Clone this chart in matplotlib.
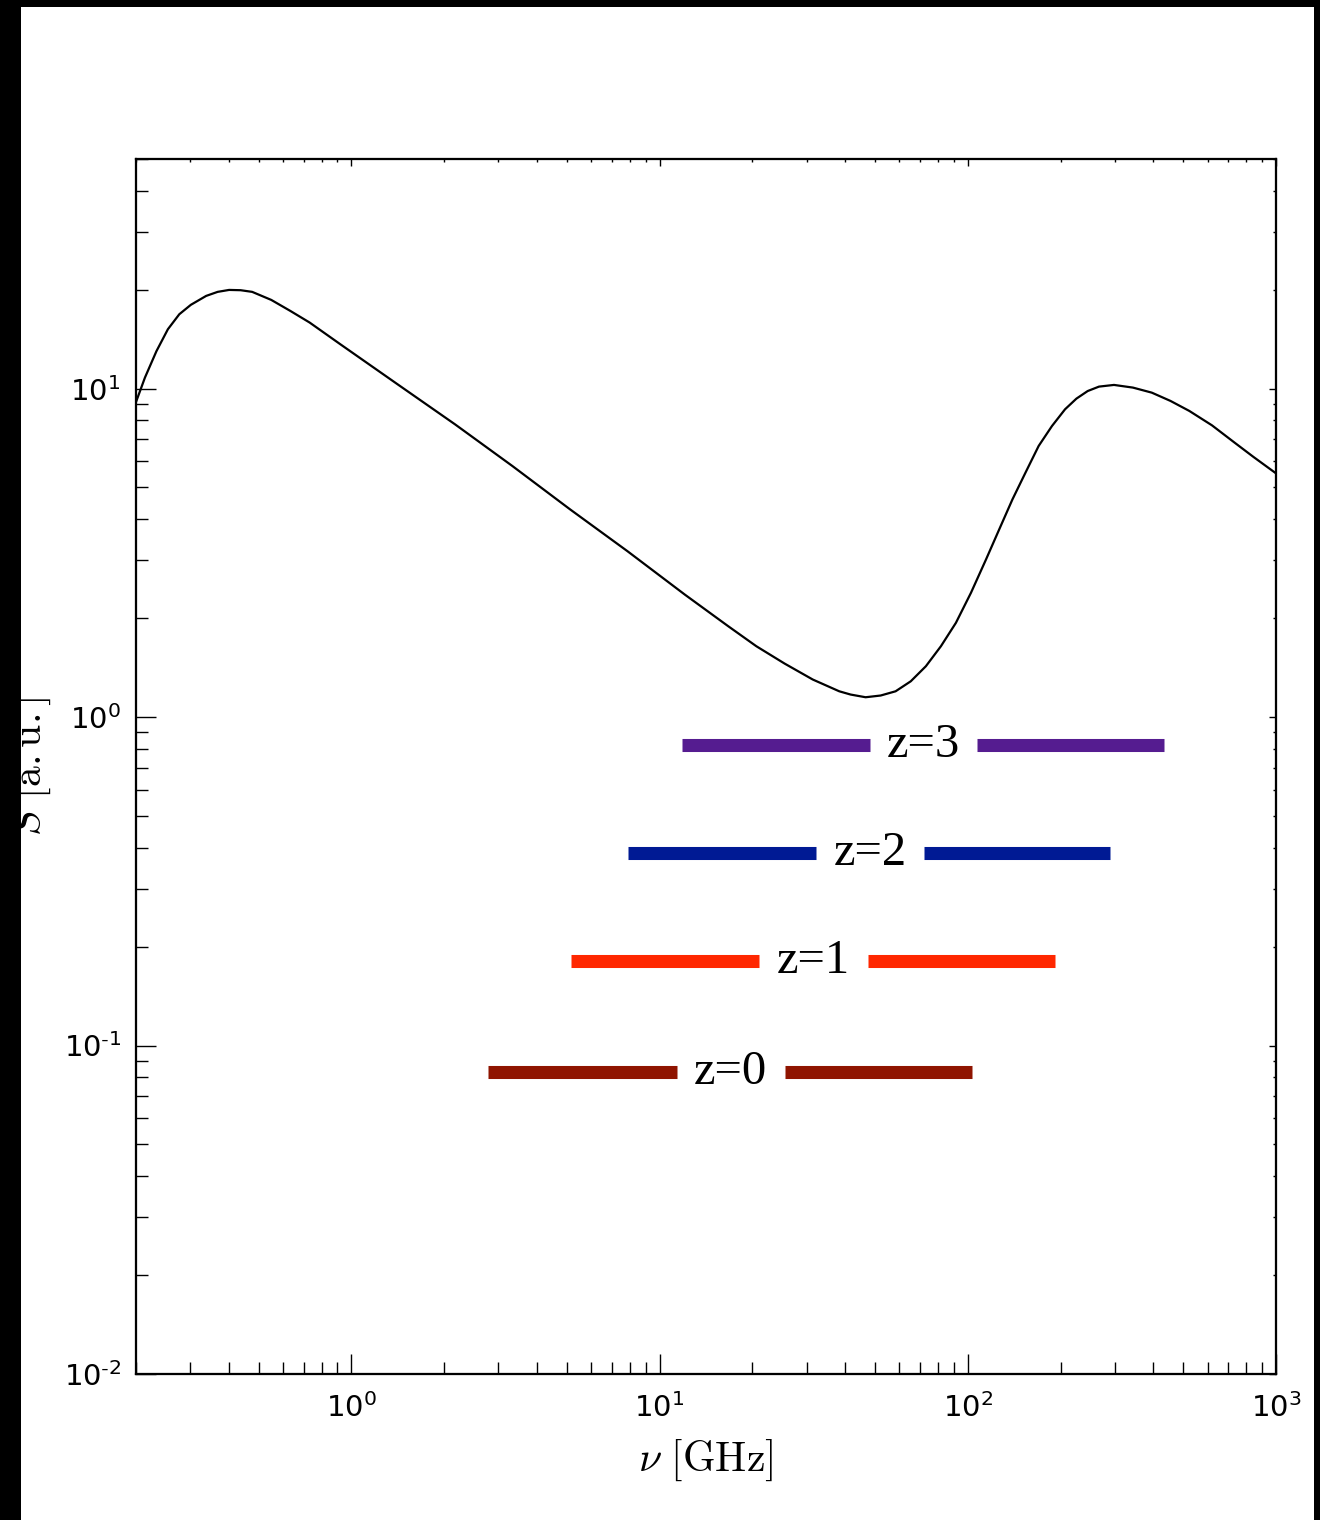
import numpy as np
import matplotlib
matplotlib.use("Agg")
import matplotlib.pyplot as plt
from matplotlib.patches import Rectangle
from matplotlib.ticker import FuncFormatter

plt.rcParams['mathtext.fontset'] = 'cm'
plt.rcParams['axes.unicode_minus'] = False

# spectrum (GHz, a.u.)
nu = [0.2, 0.2138, 0.233, 0.2538, 0.2764, 0.3013, 0.3378, 0.3681, 0.401, 0.4371,
      0.4764, 0.5494, 0.634, 0.7317, 0.92, 1.413, 2.17, 3.33, 5.12, 7.86,
      12.07, 16.69, 20.6, 25.44, 31.4, 38.27, 41.65, 46.6, 52.15, 58.3,
      65.3, 73.1, 81.8, 91.5, 102.4, 114.6, 126.5, 139.6, 153.9, 169.8,
      187.5, 206.8, 225.1, 244.9, 266.5, 298.1, 343.4, 395.3, 454.8, 523.3,
      619.7, 733.3, 843.8, 1000.0]
S = [9.1, 10.8, 13.0, 15.16, 16.84, 17.99, 19.15, 19.70, 19.97, 19.93,
     19.70, 18.62, 17.23, 15.89, 13.65, 10.3, 7.78, 5.81, 4.29, 3.20,
     2.36, 1.891, 1.643, 1.455, 1.301, 1.198, 1.171, 1.149, 1.163, 1.198,
     1.285, 1.428, 1.643, 1.936, 2.39, 3.02, 3.73, 4.60, 5.55, 6.69,
     7.69, 8.65, 9.32, 9.83, 10.14, 10.26, 10.07, 9.72, 9.17, 8.55,
     7.73, 6.85, 6.2, 5.52]

# observing bands for each redshift, split around the label
z_labels = ['z=0', 'z=1', 'z=2', 'z=3']
band_y = [0.0830, 0.1803, 0.3865, 0.8245]
left_lo = [2.78, 5.14, 7.89, 11.78]
left_hi = [11.36, 21.06, 32.15, 48.02]
right_lo = [25.51, 47.34, 71.95, 107.5]
right_hi = [103.3, 192.1, 290.0, 434.2]
band_colors = ['#8f1400', '#ff2700', '#001a94', '#551c90']

fig = plt.figure(figsize=(13.2, 15.2), dpi=100)
ax = fig.add_axes([136/1320, 1 - 1374/1520, 1140/1320, 1215/1520])

ax.plot(nu, S, color='black', lw=1.6)

for i in range(len(z_labels)):
    ax.plot([left_lo[i], left_hi[i]], [band_y[i], band_y[i]], color=band_colors[i],
            lw=9.4, solid_capstyle='butt')
    ax.plot([right_lo[i], right_hi[i]], [band_y[i], band_y[i]], color=band_colors[i],
            lw=9.4, solid_capstyle='butt')
    xm = np.sqrt(left_hi[i] * right_lo[i])
    ax.text(xm, band_y[i], z_labels[i], ha='center', va='center',
            fontsize=35, family='Liberation Serif')

ax.set_xscale('log')
ax.set_yscale('log')
ax.set_xlim(0.2, 1000)
ax.set_ylim(0.01, 50)


def pow10(v, pos):
    e = int(round(np.log10(v)))
    if e < 0:
        return r'$\mathdefault{10^{\text{-}%d}}$' % (-e)
    return r'$\mathdefault{10^{%d}}$' % e


ax.yaxis.set_major_formatter(FuncFormatter(pow10))
ax.xaxis.set_major_formatter(FuncFormatter(pow10))

ax.set_xlabel(r'$\nu\ [\mathrm{GHz}]$', fontsize=30, labelpad=10)
ax.set_ylabel(r'$S\ [\mathrm{a.u.}]$', fontsize=30)
ax.yaxis.set_label_coords(-0.0728, 0.5)

for sp in ax.spines.values():
    sp.set_linewidth(1.5)

ax.tick_params(which='both', direction='in', top=False, right=False, labelsize=21, width=1.0)
ax.tick_params(which='major', length=14.4)
ax.tick_params(which='minor', length=8.6)
ax.tick_params(axis='x', which='major', pad=14)
ax.tick_params(axis='y', which='major', pad=11)

# short ticks on top and right
axt = ax.twiny()
axt.set_xscale('log')
axt.set_xlim(ax.get_xlim())
axt.tick_params(which='both', direction='in', labeltop=False, width=1.0)
axt.tick_params(which='major', length=5)
axt.tick_params(which='minor', length=2.5)
axr = ax.twinx()
axr.set_yscale('log')
axr.set_ylim(ax.get_ylim())
axr.tick_params(which='both', direction='in', labelright=False, width=1.0)
axr.tick_params(which='major', length=5)
axr.tick_params(which='minor', length=2.5)
for a in (axt, axr):
    for sp in a.spines.values():
        sp.set_linewidth(1.5)

# black frame around the image
fig.add_artist(Rectangle((0, 0), 21/1320, 1, transform=fig.transFigure,
                         facecolor='black', edgecolor='none', zorder=10))
fig.add_artist(Rectangle((0, 1 - 7/1520), 1, 7/1520, transform=fig.transFigure,
                         facecolor='black', edgecolor='none', zorder=10))
fig.add_artist(Rectangle((1314/1320, 0), 6/1320, 1, transform=fig.transFigure,
                         facecolor='black', edgecolor='none', zorder=10))

fig.savefig('out.png', dpi=100)
